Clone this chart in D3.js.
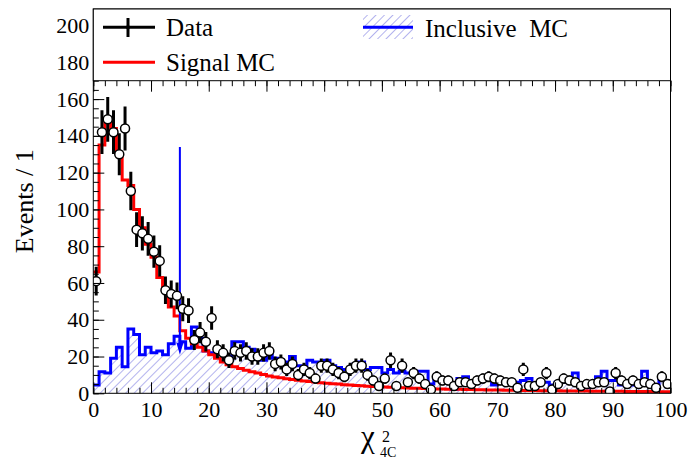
<!DOCTYPE html>
<html>
<head>
<meta charset="utf-8">
<script src="https://cdn.jsdelivr.net/npm/d3@7"></script>
<style>
  body { margin: 0; background: #fff; }
  text { font-family: "Liberation Serif", "Times New Roman", serif; fill: #000; }
</style>
</head>
<body>
<svg id="chart"></svg>
<script>
// bin contents, bins of width 1 from 0 to 100
const dataCounts = [
  61, 142, 149, 142, 130, 144, 110, 89, 87, 84,
  77, 72, 56, 54, 53, 46, 45, 29, 33, 28,
  41, 24, 22, 18, 23, 22, 23, 20, 20, 22,
  23, 16, 17, 13, 16, 10, 13, 11, 8, 15,
  15, 13, 11, 9, 13, 15, 15, 10, 7, 4,
  8, 18, 4, 15, 6, 11, 8, 5, 2, 9,
  7, 7, 4, 6, 6, 5, 7, 8, 9, 8,
  7, 6, 6, 3, 13, 4, 4, 6, 11, 2,
  5, 8, 7, 6, 4, 5, 5, 6, 6, 1,
  11, 7, 5, 7, 5, 6, 5, 3, 9, 5
];
const signalMC = [
  66, 135, 149, 144, 130, 116, 113, 100, 90, 81,
  74, 63, 56, 47, 42, 34, 30, 27, 25, 23,
  21, 19, 17, 15.5, 14.5, 13.5, 12.5, 11.7, 11, 10.2,
  9.4, 8.9, 8.4, 7.9, 7.5, 7.1, 6.7, 6.4, 6.1, 5.8,
  5.5, 5.2, 5.0, 4.7, 4.5, 4.3, 4.1, 3.9, 3.7, 3.5,
  3.4, 3.3, 3.1, 3.0, 2.9, 2.8, 2.7, 2.6, 2.5, 2.4,
  2.3, 2.25, 2.2, 2.15, 2.1, 2.0, 1.95, 1.9, 1.85, 1.8,
  1.75, 1.7, 1.65, 1.6, 1.55, 1.5, 1.5, 1.45, 1.4, 1.4,
  1.35, 1.3, 1.3, 1.25, 1.2, 1.2, 1.15, 1.15, 1.1, 1.1,
  1.05, 1.05, 1.0, 1.0, 1.0, 0.95, 0.95, 0.9, 0.9, 0.9
];
const inclusiveMC = [
  4.5, 11.7, 11, 19, 25, 14.5, 35, 32, 21, 25,
  22, 23, 21, 27, 31, 28, 24.5, 36, 30, 23,
  22, 24, 21, 19, 28, 28, 25, 24, 20, 18,
  22, 19, 18, 17, 20, 15, 14, 18, 17, 16,
  18, 15, 14, 13, 13, 16, 17, 13, 14, 14,
  11, 13, 11, 12, 11, 11, 12, 12, 5, 8,
  8, 6, 2, 8, 9, 7, 7, 7, 9, 4.5,
  7, 6, 6, 6, 7, 8, 3, 6, 6, 4.5,
  6, 6, 7, 11, 3, 3, 5.4, 9, 12, 7,
  7, 4.5, 4.5, 4.5, 7, 12, 4.5, 3, 7, 6
];
const xTicks = d3.range(0, 101, 10);
const xMinor = d3.range(0, 101, 2);
const yTicks = d3.range(0, 201, 20);
const yMinor = d3.range(0, 210, 5);
const cutLine = { x: 15, top: 134, tip: 21 };

const W = 689, H = 461;
const margin = { top: 9, right: 18.5, bottom: 67.7, left: 93.3 };
const legendBottom = 80.7;

const svg = d3.select("#chart").attr("width", W).attr("height", H);
const width = W - margin.left - margin.right;
const height = H - margin.top - margin.bottom;

const x = d3.scaleLinear().domain([0, 100]).range([0, width]);
const y = d3.scaleLinear().domain([0, 209]).range([height, 0]);

const defs = svg.append("defs");
defs.append("clipPath").attr("id", "clip")
  .append("rect").attr("width", width).attr("height", height);
const pat = defs.append("pattern")
  .attr("id", "hatch")
  .attr("patternUnits", "userSpaceOnUse")
  .attr("width", 6).attr("height", 6)
  .attr("patternTransform", "rotate(45)");
pat.append("line")
  .attr("x1", 0).attr("y1", 0).attr("x2", 0).attr("y2", 6)
  .attr("stroke", "#9a9ae8").attr("stroke-width", 1.5);

const g = svg.append("g").attr("transform", `translate(${margin.left},${margin.top})`);
const plot = g.append("g").attr("clip-path", "url(#clip)");

const stepPts = arr => arr.map((v, i) => [i, v]).concat([[arr.length, arr[arr.length - 1]]]);

// inclusive MC: hatched area + outline
plot.append("path")
  .datum(stepPts(inclusiveMC))
  .attr("fill", "url(#hatch)")
  .attr("d", d3.area().curve(d3.curveStepAfter)
    .x(d => x(d[0])).y0(y(0)).y1(d => y(d[1])));
plot.append("path")
  .datum(stepPts(inclusiveMC))
  .attr("fill", "none").attr("stroke", "#0000ff").attr("stroke-width", 3)
  .attr("d", d3.line().curve(d3.curveStepAfter).x(d => x(d[0])).y(d => y(d[1])));

// signal MC
plot.append("path")
  .datum(stepPts(signalMC))
  .attr("fill", "none").attr("stroke", "#ff0000").attr("stroke-width", 3)
  .attr("d", d3.line().curve(d3.curveStepAfter).x(d => x(d[0])).y(d => y(d[1])));

// cut arrow
plot.append("line")
  .attr("x1", x(cutLine.x)).attr("x2", x(cutLine.x))
  .attr("y1", y(cutLine.top)).attr("y2", y(cutLine.tip) - 6)
  .attr("stroke", "#0000ff").attr("stroke-width", 2);
plot.append("path")
  .attr("d", `M${x(cutLine.x) - 3.5},${y(cutLine.tip) - 12}L${x(cutLine.x) + 3.5},${y(cutLine.tip) - 12}L${x(cutLine.x)},${y(cutLine.tip)}Z`)
  .attr("fill", "#0000ff");

// data points with sqrt(N) errors
const pts = plot.append("g").selectAll("g")
  .data(dataCounts.map((v, i) => ({ c: i + 0.5, v })))
  .join("g");
pts.append("line")
  .attr("x1", d => x(d.c)).attr("x2", d => x(d.c))
  .attr("y1", d => y(d.v + Math.sqrt(d.v))).attr("y2", d => y(Math.max(0, d.v - Math.sqrt(d.v))))
  .attr("stroke", "#000").attr("stroke-width", 3);
pts.append("circle")
  .attr("cx", d => x(d.c)).attr("cy", d => y(d.v)).attr("r", 4.5)
  .attr("fill", "#fff").attr("stroke", "#000").attr("stroke-width", 1.5);

// legend box
const lg = svg.append("g");
lg.append("rect")
  .attr("x", margin.left).attr("y", margin.top)
  .attr("width", width).attr("height", legendBottom - margin.top)
  .attr("fill", "#fff").attr("stroke", "#000").attr("stroke-width", 1);
lg.append("line").attr("x1", 103).attr("x2", 155).attr("y1", 27.3).attr("y2", 27.3)
  .attr("stroke", "#000").attr("stroke-width", 3);
lg.append("line").attr("x1", 128).attr("x2", 128).attr("y1", 18).attr("y2", 37)
  .attr("stroke", "#000").attr("stroke-width", 3);
lg.append("circle").attr("cx", 128).attr("cy", 27.3).attr("r", 2).attr("fill", "#000");
lg.append("text").attr("x", 166).attr("y", 35.5).attr("font-size", 25).text("Data");
lg.append("line").attr("x1", 103).attr("x2", 155).attr("y1", 62.3).attr("y2", 62.3)
  .attr("stroke", "#ff0000").attr("stroke-width", 3);
lg.append("text").attr("x", 166).attr("y", 70.5).attr("font-size", 25).text("Signal MC");
lg.append("rect").attr("x", 363).attr("y", 15).attr("width", 50).attr("height", 24)
  .attr("fill", "url(#hatch)");
lg.append("line").attr("x1", 363).attr("x2", 413).attr("y1", 27.3).attr("y2", 27.3)
  .attr("stroke", "#0000ff").attr("stroke-width", 3);
lg.append("text").attr("x", 425).attr("y", 36.5).attr("font-size", 25)
  .style("white-space", "pre").text("Inclusive  MC");

// frame
g.append("rect").attr("width", width).attr("height", height)
  .attr("fill", "none").attr("stroke", "#000").attr("stroke-width", 1);

// axes
g.append("g")
  .call(d3.axisLeft(y).tickValues(yTicks).tickSize(-11).tickPadding(4).tickFormat(d3.format("d")));
g.append("g")
  .call(d3.axisLeft(y).tickValues(yMinor).tickSize(-5.5).tickFormat(""));
g.append("g").attr("transform", `translate(0,${height})`)
  .call(d3.axisBottom(x).tickValues(xTicks).tickSize(-11).tickPadding(7.8).tickFormat(d3.format("d")));
g.append("g").attr("transform", `translate(0,${height})`)
  .call(d3.axisBottom(x).tickValues(xMinor).tickSize(-5.5).tickFormat(""));
// ticks hanging below legend
const topY = legendBottom - margin.top;
g.append("g").attr("transform", `translate(0,${topY})`)
  .call(d3.axisTop(x).tickValues(xTicks).tickSize(-11).tickFormat(""));
g.append("g").attr("transform", `translate(0,${topY})`)
  .call(d3.axisTop(x).tickValues(xMinor).tickSize(-5.5).tickFormat(""));

g.selectAll(".domain").remove();
g.selectAll(".tick line").attr("stroke", "#000").attr("stroke-width", 1);
g.selectAll(".tick text")
  .attr("font-family", '"Liberation Serif", "Times New Roman", serif')
  .attr("font-size", 22).attr("fill", "#000");

// axis titles
svg.append("text")
  .attr("transform", `translate(33,${margin.top + height / 2}) rotate(-90)`)
  .attr("text-anchor", "middle").attr("font-size", 26)
  .text("Events / 1");

const xt = svg.append("g");
xt.append("text").attr("x", 361).attr("y", 447).attr("font-size", 31)
  .attr("font-family", '"DejaVu Serif", serif').text("χ");
xt.append("text").attr("x", 382).attr("y", 442).attr("font-size", 16).text("2");
xt.append("text").attr("x", 380).attr("y", 457).attr("font-size", 14).text("4C");
</script>
</body>
</html>
